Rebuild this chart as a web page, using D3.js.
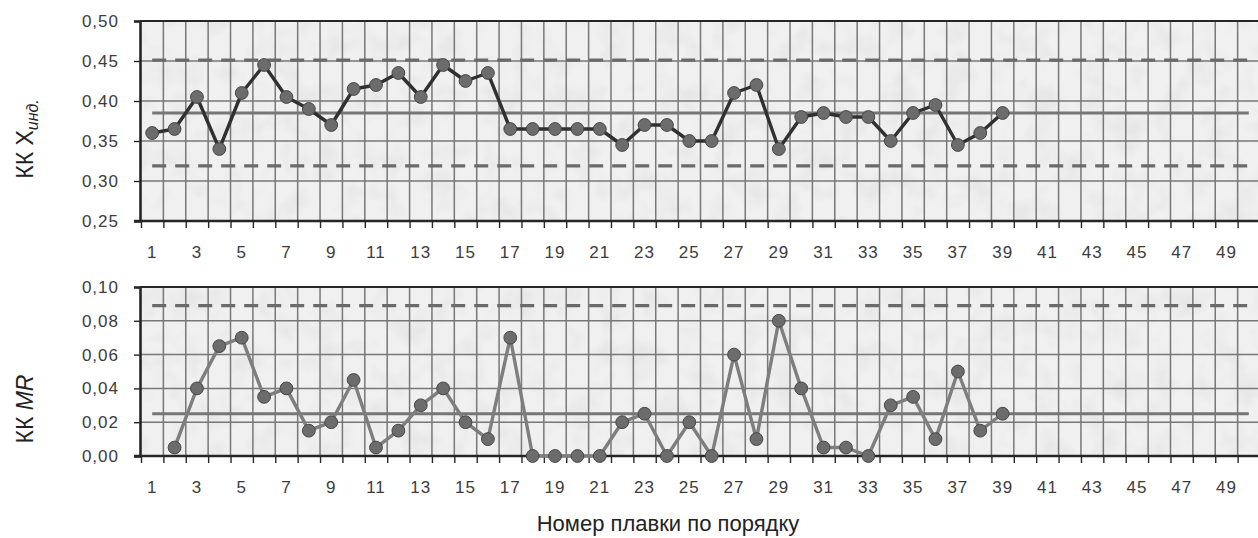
<!DOCTYPE html>
<html>
<head>
<meta charset="utf-8">
<script src="https://cdn.jsdelivr.net/npm/d3@7"></script>
<style>
  html, body { margin: 0; padding: 0; background: #fff; }
  svg { display: block; font-family: "Liberation Sans", Arial, sans-serif; }
</style>
</head>
<body>
<script>
// Heat numbers (category axis) and labelled ticks
const runs = [1,2,3,4,5,6,7,8,9,10,11,12,13,14,15,16,17,18,19,20,21,22,23,24,25,
              26,27,28,29,30,31,32,33,34,35,36,37,38,39,40,41,42,43,44,45,46,47,48,49,50];
const runLabels = [1,3,5,7,9,11,13,15,17,19,21,23,25,27,29,31,33,35,37,39,41,43,45,47,49];

// Individual values, heats 1..39
const xValues = [0.360,0.365,0.405,0.340,0.410,0.445,0.405,0.390,0.370,0.415,
                 0.420,0.435,0.405,0.445,0.425,0.435,0.365,0.365,0.365,0.365,
                 0.365,0.345,0.370,0.370,0.350,0.350,0.410,0.420,0.340,0.380,
                 0.385,0.380,0.380,0.350,0.385,0.395,0.345,0.360,0.385];

// Moving ranges, heats 2..39 (heat 1 has none)
const mrValues = [null,0.005,0.040,0.065,0.070,0.035,0.040,0.015,0.020,0.045,
                  0.005,0.015,0.030,0.040,0.020,0.010,0.070,0.000,0.000,0.000,
                  0.000,0.020,0.025,0.000,0.020,0.000,0.060,0.010,0.080,0.040,
                  0.005,0.005,0.000,0.030,0.035,0.010,0.050,0.015,0.025];

// Control limits
const xLimits = [0.451, 0.385, 0.319];   // UCL, CL, LCL
const mrLimits = [0.089, 0.025];         // UCL, CL

// Value-axis ticks
const xTicks = [0.25,0.30,0.35,0.40,0.45,0.50];
const mrTicks = [0.00,0.02,0.04,0.06,0.08,0.10];

const W = 1258, H = 538;
const svg = d3.select("body").append("svg").attr("width", W).attr("height", H);

// faint paper-like mottling for the plot areas
const defs = svg.append("defs");
const flt = defs.append("filter").attr("id", "mottle")
  .attr("x", 0).attr("y", 0).attr("width", 1).attr("height", 1);
flt.append("feTurbulence").attr("type", "fractalNoise")
  .attr("baseFrequency", 0.035).attr("numOctaves", 3).attr("seed", 7).attr("result", "n");
flt.append("feColorMatrix").attr("in", "n").attr("type", "matrix")
  .attr("values", "0 0 0 0 0  0 0 0 0 0  0 0 0 0 0  0 0 0 -0.09 0.05").attr("result", "shade");
flt.append("feComposite").attr("in", "shade").attr("in2", "SourceGraphic").attr("operator", "in");

const left = 141, right = 1260;
const xBand = d3.scaleBand().domain(runs).range([left, right]).padding(0);
const xEdge = d3.scaleLinear().domain([0, runs.length]).range([left, right]);
const cx = d => xBand(d) + xBand.bandwidth() / 2;

const fmt = d => d3.format(".2f")(d).replace(".", ",");

function panel(cfg) {
  const y = d3.scaleLinear().domain(cfg.domain).range([cfg.bottom, cfg.top]);
  const g = svg.append("g");

  // plot background
  g.append("rect")
    .attr("x", left).attr("y", cfg.top)
    .attr("width", right - left).attr("height", cfg.bottom - cfg.top)
    .attr("fill", "#f0f0f0");
  g.append("rect")
    .attr("x", left).attr("y", cfg.top)
    .attr("width", right - left).attr("height", cfg.bottom - cfg.top)
    .attr("fill", "#000").attr("filter", "url(#mottle)");

  // grid
  g.append("g").selectAll("line.v")
    .data(d3.range(1, runs.length + 1))
    .join("line")
    .attr("x1", d => xEdge(d)).attr("x2", d => xEdge(d))
    .attr("y1", cfg.top).attr("y2", cfg.bottom)
    .attr("stroke", "#777").attr("stroke-width", 1.5);
  g.append("g").selectAll("line.h")
    .data(cfg.ticks.slice(1, -1))
    .join("line")
    .attr("x1", left).attr("x2", right)
    .attr("y1", d => y(d)).attr("y2", d => y(d))
    .attr("stroke", "#777").attr("stroke-width", 1.5);

  // control limits
  const limitLine = (v, dashed) => g.append("line")
    .attr("x1", cx(1)).attr("x2", cx(50))
    .attr("y1", y(v)).attr("y2", y(v))
    .attr("stroke", dashed ? "#6a6a6a" : "#767676")
    .attr("stroke-width", dashed ? 3.2 : 2.8)
    .attr("stroke-dasharray", dashed ? "14,9" : null);
  cfg.limits.forEach((v, i) => limitLine(v, i !== 1));

  // frame
  g.append("line").attr("x1", left - 1).attr("x2", right).attr("y1", cfg.top).attr("y2", cfg.top)
    .attr("stroke", "#262626").attr("stroke-width", 2.2);

  // y axis
  const ya = g.append("g").attr("transform", `translate(${left - 1},0)`)
    .call(d3.axisLeft(y).tickValues(cfg.ticks).tickSize(6).tickPadding(15).tickFormat(fmt));
  ya.select(".domain").attr("stroke", "#262626").attr("stroke-width", 2.6);
  ya.selectAll(".tick line").attr("stroke", "#262626").attr("stroke-width", 1.4);
  ya.selectAll("text").attr("font-size", 17).attr("fill", "#3c3c3c")
    .attr("letter-spacing", 1).attr("font-family", "Liberation Sans, Arial, sans-serif");

  // x axis: ticks at category edges
  const xa = g.append("g").attr("transform", `translate(0,${cfg.bottom})`)
    .call(d3.axisBottom(xEdge).tickValues(d3.range(0, runs.length + 1)).tickSize(7).tickFormat(""));
  xa.select(".domain").remove();
  xa.selectAll(".tick line").attr("stroke", "#262626").attr("stroke-width", 1.4);
  g.append("line").attr("x1", left - 7).attr("x2", right).attr("y1", cfg.bottom).attr("y2", cfg.bottom)
    .attr("stroke", "#262626").attr("stroke-width", 2.6);

  // x labels at category centres
  const xl = g.append("g").attr("transform", `translate(0,${cfg.bottom})`)
    .call(d3.axisBottom(xBand).tickValues(runLabels).tickSize(0).tickPadding(25));
  xl.select(".domain").remove();
  xl.selectAll("text").attr("font-size", 17).attr("fill", "#3c3c3c")
    .attr("letter-spacing", 1).attr("font-family", "Liberation Sans, Arial, sans-serif");

  // series
  const pts = cfg.values.map((v, i) => ({ run: runs[i], v })).filter(d => d.v !== null);
  g.append("path")
    .datum(pts)
    .attr("fill", "none")
    .attr("stroke", cfg.lineColor).attr("stroke-width", 3.4).attr("stroke-linejoin", "round")
    .attr("d", d3.line().x(d => cx(d.run)).y(d => y(d.v)));
  g.append("g").selectAll("circle")
    .data(pts)
    .join("circle")
    .attr("cx", d => cx(d.run)).attr("cy", d => y(d.v)).attr("r", 6.4)
    .attr("fill", "#6c6c6c").attr("stroke", "#474747").attr("stroke-width", 1);

  // y title
  const t = svg.append("text")
    .attr("transform", `translate(33,${cfg.titleY}) rotate(-90)`)
    .attr("text-anchor", "middle")
    .attr("font-size", 23).attr("fill", "#222");
  cfg.title(t);
}

panel({
  top: 21, bottom: 221, domain: [0.25, 0.50], ticks: xTicks,
  limits: xLimits, values: xValues, lineColor: "#303030", titleY: 139,
  title: t => {
    t.append("tspan").text("КК X");
    t.append("tspan").attr("font-size", 16).attr("font-style", "italic").attr("dy", 5).text("инд.");
  }
});

panel({
  top: 287, bottom: 456, domain: [0.00, 0.10], ticks: mrTicks,
  limits: mrLimits, values: mrValues, lineColor: "#7e7e7e", titleY: 409,
  title: t => {
    t.append("tspan").text("КК ");
    t.append("tspan").attr("font-style", "italic").text("MR");
  }
});

svg.append("text")
  .attr("x", 668).attr("y", 531)
  .attr("text-anchor", "middle")
  .attr("font-size", 22).attr("fill", "#222")
  .text("Номер плавки по порядку");
</script>
</body>
</html>
